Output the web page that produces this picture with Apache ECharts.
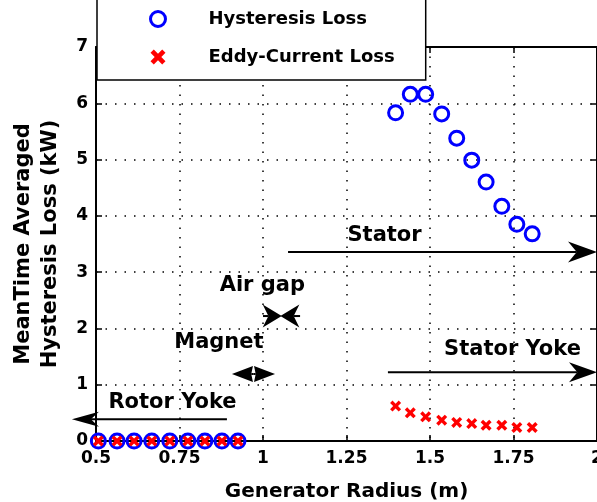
<!DOCTYPE html>
<html><head><meta charset="utf-8">
<script src="https://cdn.jsdelivr.net/npm/echarts@6/dist/echarts.min.js"></script>
<style>html,body{margin:0;padding:0;background:#fff}#c{width:597px;height:502px}</style>
</head><body><div id="c"></div>
<script>
// ---- data ----
const xTickLabels = ['0.5', '0.75', '1', '1.25', '1.5', '1.75', '2'];
const yTickLabels = ['0', '1', '2', '3', '4', '5', '6', '7'];

const rotorRadius = [0.507, 0.563, 0.614, 0.667, 0.721, 0.775, 0.826, 0.877, 0.925];
const rotorHysteresis = [0, 0, 0, 0, 0, 0, 0, 0, 0];
const rotorEddy = [0, 0, 0, 0, 0, 0, 0, 0, 0];

const statorRadius = [1.397, 1.441, 1.487, 1.535, 1.58, 1.625, 1.668, 1.715, 1.76, 1.806];
const statorHysteresis = [5.83, 6.16, 6.16, 5.81, 5.38, 4.99, 4.60, 4.17, 3.85, 3.68];
const statorEddy = [0.62, 0.50, 0.43, 0.37, 0.33, 0.31, 0.28, 0.28, 0.24, 0.24];

const regionNames = ['Stator', 'Stator Yoke', 'Rotor Yoke', 'Air gap', 'Magnet'];
const regionLabelX = [1.364, 1.747, 0.729, 0.998, 0.868];
const regionLabelY = [3.657, 1.633, 0.675, 2.77, 1.757];

// arrows (head at the "to" end)
const arrowFromX = [1.075, 1.374, 0.892, 1.0, 1.111, 0.971, 0.971];
const arrowFromY = [3.36, 1.22, 0.385, 2.22, 2.22, 1.19, 1.19];
const arrowToX   = [2.0, 2.0, 0.428, 1.056, 1.052, 0.907, 1.036];
const arrowToY   = [3.36, 1.22, 0.385, 2.22, 2.22, 1.19, 1.19];

// ---- styles ----
const FONT = 'DejaVu Sans';
const headStyle = {
  len:   [29, 28, 27, 19, 19, 21, 21],
  half:  [10.5, 10, 7.5, 11.5, 11.5, 8, 8],
  notch: [0.3, 0.3, 0.3, 0.3, 0.3, 0.08, 0.08]
};
const xMark = 'path://M0,2.2 L2.2,0 L5,2.8 L7.8,0 L10,2.2 L7.2,5 L10,7.8 L7.8,10 L5,7.2 L2.2,10 L0,7.8 L2.8,5 Z';

const hystData = rotorRadius.map((x, i) => [x, rotorHysteresis[i]])
  .concat(statorRadius.map((x, i) => [x, statorHysteresis[i]]));
const eddyData = rotorRadius.map((x, i) => [x, rotorEddy[i]])
  .concat(statorRadius.map((x, i) => [x, statorEddy[i]]));
const arrowData = arrowFromX.map((x, i) => [x, arrowFromY[i], arrowToX[i], arrowToY[i]]);
const labelData = regionNames.map((n, i) => [regionLabelX[i], regionLabelY[i], n]);

const labelFor = (arr, v) => { const k = arr.findIndex(s => Math.abs(Number(s) - v) < 1e-9); return k >= 0 ? arr[k] : ''; };

const tickFont = {fontFamily: FONT, fontWeight: 'bold', fontSize: 17, color: '#000'};
const axisLineStyle = {color: '#000', width: 2};
const tickStyle = {color: '#000', width: 1.5};
const gridDots = {color: '#000', width: 1.5, type: [1.5, 8]};

const chart = echarts.init(document.getElementById('c'), null, {renderer: 'canvas'});
chart.setOption({
  animation: false,
  backgroundColor: '#fff',
  grid: {left: 96, right: 0, top: 47, bottom: 61, containLabel: false, outerBoundsMode: 'none'},
  legend: {
    data: [
      {name: 'Hysteresis Loss', itemStyle: {color: 'rgba(0,0,0,0)', borderColor: '#0000ff', borderWidth: 3, opacity: 1}},
      {name: 'Eddy-Current Loss', itemStyle: {color: '#ff0000', opacity: 1}}
    ],
    orient: 'vertical', left: 97, top: -19,
    padding: [29, 31, 14, 52],
    itemGap: 20, itemWidth: 15, itemHeight: 15,
    backgroundColor: '#fff', borderColor: '#000', borderWidth: 1.5, borderRadius: 0,
    textStyle: {fontFamily: FONT, fontWeight: 'bold', fontSize: 18, color: '#000', padding: [0, 0, 0, 38]},
    selectedMode: false, z: 20
  },
  xAxis: [{
    type: 'value', min: 0.5, max: 2, interval: 0.25, position: 'bottom',
    axisLine: {show: true, onZero: false, lineStyle: axisLineStyle},
    axisTick: {show: true, inside: true, length: 6, lineStyle: tickStyle},
    axisLabel: Object.assign({margin: 9, formatter: v => labelFor(xTickLabels, v)}, tickFont),
    splitLine: {show: true, lineStyle: gridDots},
    name: 'Generator Radius (m)', nameLocation: 'middle', nameGap: 41,
    nameTextStyle: {fontFamily: FONT, fontWeight: 'bold', fontSize: 20, color: '#000'}
  }, {
    type: 'value', min: 0.5, max: 2, interval: 0.25, position: 'top',
    axisLine: {show: true, onZero: false, lineStyle: axisLineStyle},
    axisTick: {show: true, inside: true, length: 6, lineStyle: tickStyle},
    axisLabel: {show: false}, splitLine: {show: false}
  }],
  yAxis: [{
    type: 'value', min: 0, max: 7, interval: 1, position: 'left',
    axisLine: {show: true, onZero: false, lineStyle: axisLineStyle},
    axisTick: {show: true, inside: true, length: 6, lineStyle: tickStyle},
    axisLabel: Object.assign({margin: 8, formatter: v => labelFor(yTickLabels, v)}, tickFont),
    splitLine: {show: true, lineStyle: gridDots},
    name: 'MeanTime Averaged\nHysteresis Loss (kW)', nameLocation: 'middle', nameGap: 32,
    nameMoveOverlap: false,
    nameTextStyle: {fontFamily: FONT, fontWeight: 'bold', fontSize: 21, color: '#000', lineHeight: 27}
  }, {
    type: 'value', min: 0, max: 7, interval: 1, position: 'right',
    axisLine: {show: true, onZero: false, lineStyle: axisLineStyle},
    axisTick: {show: true, inside: true, length: 6, lineStyle: tickStyle},
    axisLabel: {show: false}, splitLine: {show: false}
  }],
  series: [{
    name: 'Hysteresis Loss', type: 'scatter', data: hystData, clip: false, z: 3,
    symbol: 'circle', symbolSize: 14,
    itemStyle: {color: 'rgba(0,0,0,0)', borderColor: '#0000ff', borderWidth: 3, opacity: 1}
  }, {
    name: 'Eddy-Current Loss', type: 'scatter', data: eddyData, clip: false, z: 4,
    symbol: xMark, symbolSize: 11,
    itemStyle: {color: '#ff0000', opacity: 1}
  }, {
    type: 'custom', name: 'arrows', data: arrowData, clip: false, silent: true, z: 5,
    encode: {x: [0, 2], y: [1, 3]},
    renderItem: function (params, api) {
      const i = params.dataIndex;
      const p0 = api.coord([api.value(0), api.value(1)]);
      const p1 = api.coord([api.value(2), api.value(3)]);
      const dx = p1[0] - p0[0], dy = p1[1] - p0[1];
      const len = Math.hypot(dx, dy) || 1;
      const ux = dx / len, uy = dy / len, nx = -uy, ny = ux;
      const L = headStyle.len[i], W = headStyle.half[i], N = L * headStyle.notch[i];
      const back = [p1[0] - ux * L, p1[1] - uy * L];
      const notch = [p1[0] - ux * (L - N), p1[1] - uy * (L - N)];
      const pts = [p1, [back[0] + nx * W, back[1] + ny * W], notch, [back[0] - nx * W, back[1] - ny * W]];
      return {
        type: 'group',
        children: [
          {type: 'line', shape: {x1: p0[0], y1: p0[1], x2: notch[0], y2: notch[1]},
           style: {stroke: '#000', lineWidth: 2}},
          {type: 'polygon', shape: {points: pts}, style: {fill: '#000'}}
        ]
      };
    }
  }, {
    type: 'custom', name: 'labels', data: labelData, clip: false, silent: true, z: 6,
    encode: {x: 0, y: 1},
    renderItem: function (params, api) {
      const p = api.coord([api.value(0), api.value(1)]);
      return {
        type: 'text',
        style: {text: labelData[params.dataIndex][2], x: p[0], y: p[1], align: 'center', verticalAlign: 'middle',
                font: 'bold 21px "DejaVu Sans"', fill: '#000'}
      };
    }
  }]
});
</script></body></html>
